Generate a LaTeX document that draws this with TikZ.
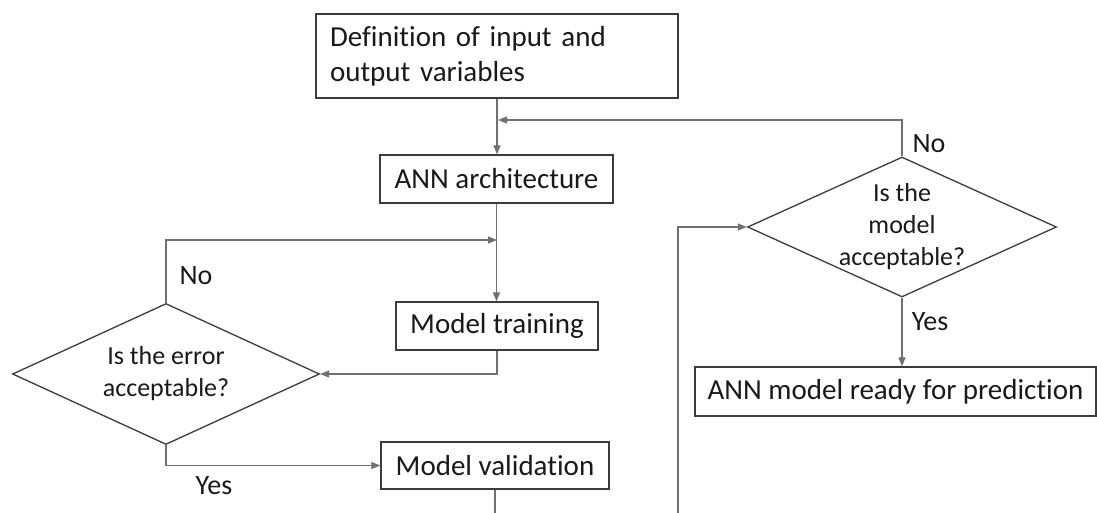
\documentclass[tikz,border=0pt]{standalone}
\usepackage{fontspec}
\setmainfont{Carlito}[Ligatures=CommonOff]
\usepackage{tikz}
\usetikzlibrary{shapes.geometric, positioning, arrows.meta}
\definecolor{boxgray}{HTML}{3C3C3C}
\definecolor{linegray}{HTML}{707070}

\begin{document}
\begin{tikzpicture}[x=1pt, y=-1pt,
    box/.style={draw=boxgray, line width=1.3pt, rectangle, inner sep=0pt, font=\fontsize{29}{35}\selectfont, text=black!90},
    decision/.style={draw=boxgray, line width=1.3pt, diamond, aspect=2.2, inner sep=-6pt, font=\fontsize{26}{32}\selectfont, align=center, text=black!90},
    flow/.style={draw=linegray, line width=1.2pt, -{Triangle[length=9pt, width=7pt]}},
    plain/.style={draw=linegray, line width=1.2pt},
    lbl/.style={inner sep=0pt, font=\fontsize{28}{32}\selectfont, text=black!90}]
      \useasboundingbox (0,0) rectangle (1097,513);
      \node[box, minimum width=362pt, minimum height=84pt, text width=334pt, align=left] (def) at (497,56) {Definition of input and\\output variables};
      \node[box, minimum width=233pt, minimum height=48pt] (arch) at (496.5,179) {ANN architecture};
      \node[box, minimum width=202pt, minimum height=48pt] (train) at (497,326) {Model training};
      \node[box, minimum width=228pt, minimum height=47pt] (valid) at (495,465.5) {Model validation};
      \node[box, minimum width=401pt, minimum height=49pt] (ready) at (895.5,391.5) {ANN model ready for prediction};
      \node[decision, minimum width=307pt, minimum height=141pt] (err) at (166,374) {Is the error\\acceptable?};
      \node[decision, minimum width=309pt, minimum height=140pt] (acc) at (902,227) {Is the\\model\\acceptable?};
      \coordinate (back) at (498,120);
      \coordinate (retry) at (497,240);
      \coordinate (validout) at (495,513);
      \coordinate (testin) at (678,513);
      \draw[flow] (def.south) -- (def.south |- arch.north);
      \draw[flow] (arch.south) -- (arch.south |- train.north);
      \draw[flow] (train.south) |- (err.east);
      \draw[flow] (err.north) |- (retry);
      \draw[flow] (err.south) |- (valid.west);
      \draw[plain] (valid.south) -- (validout);
      \draw[flow] (testin) |- (acc.west);
      \draw[flow] (acc.north) |- (back);
      \draw[flow] (acc.south) -- (acc.south |- ready.north);
      \node[lbl] (no1) at (196,276) {No};
      \node[lbl] (yes1) at (214,486) {Yes};
      \node[lbl] (no2) at (929,144) {No};
      \node[lbl] (yes2) at (930,322) {Yes};
    \end{tikzpicture}
\end{document}
